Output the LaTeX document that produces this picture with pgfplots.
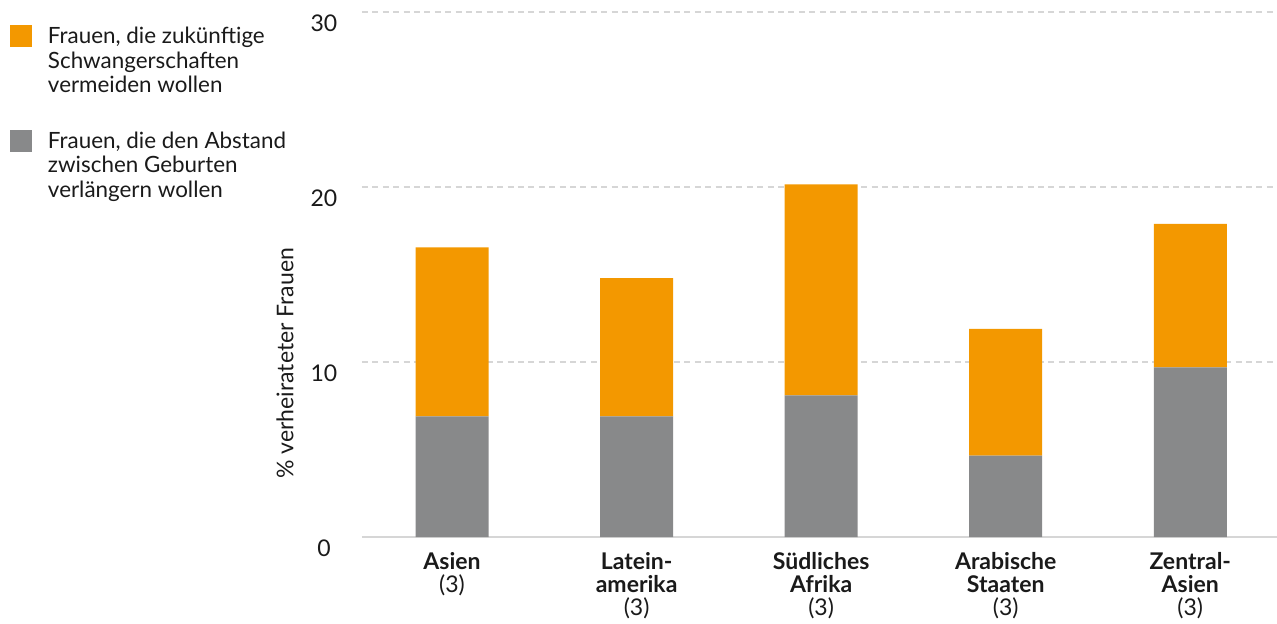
\documentclass[border=0pt]{standalone}
\usepackage{fontspec}
\setmainfont{Lato}
\usepackage{pgfplots}
\pgfplotsset{compat=1.18}
\definecolor{orng}{HTML}{F39800}
\definecolor{gry}{HTML}{88898A}
\definecolor{gridc}{HTML}{D6D6D6}
\definecolor{txt}{HTML}{1A1A1A}
\pgfplotstableread{
x gray orange
0 6.9 9.65
1 6.9 7.9
2 8.1 12.05
3 4.65 7.25
4 9.7 8.2
}\datatable
\begin{document}
\begin{tikzpicture}
\begin{axis}[
  scale only axis, width=457.5pt, height=262.5pt,
  at={(0,0)}, anchor=south west,
  ybar stacked, bar width=36.5pt,
  xmin=-0.488, xmax=4.47, ymin=0, ymax=30,
  ytick={0,10,20,30}, xtick={0,1,2,3,4},
  xticklabels={{\textbf{Asien}\\(3)},{\textbf{Latein-}\\\textbf{amerika}\\(3)},{\textbf{Südliches}\\\textbf{Afrika}\\(3)},{\textbf{Arabische}\\\textbf{Staaten}\\(3)},{\textbf{Zentral-}\\\textbf{Asien}\\(3)}},
  axis x line*=bottom, axis y line*=left,
  y axis line style={draw=none},
  x axis line style={draw=gridc, line width=0.7pt},
  major tick length=0pt,
  ymajorgrids,
  grid style={gridc, line width=0.6pt, dash pattern=on 3pt off 2.2pt},
  /pgf/number format/assume math mode=true,
  tick label style={font=\fontsize{11.5}{11.4}\selectfont, text=txt},
  xticklabel style={align=center, anchor=north, inner sep=0pt, yshift=-7.5pt},
  yticklabel style={anchor=north, inner sep=0pt, xshift=-19pt, yshift=-1pt},
  ylabel={\% verheirateter Frauen},
  ylabel style={at={(axis description cs:-0.0842,0.331)}, anchor=center, font=\fontsize{11.5}{12}\selectfont, text=txt},
  legend style={at={(axis description cs:-0.3847,0.9752)}, anchor=north west, draw=none, fill=none,
    inner sep=0pt, outer sep=0pt, row sep=17pt, column sep=8pt,
    font=\fontsize{11.2}{12.25}\selectfont, text=txt,
    nodes={align=left, inner sep=0pt}},
  legend cell align=left,
  legend style={cells={anchor=north west}},
  legend image code/.code={\fill[#1] (0pt,1pt) rectangle (11pt,-10pt);},
  reverse legend,
]
\addplot[fill=gry, draw=none] table[x=x, y=gray] {\datatable};
\addlegendentry{Frauen, die den Abstand\\zwischen Geburten\\verlängern wollen}
\addplot[fill=orng, draw=none] table[x=x, y=orange] {\datatable};
\addlegendentry{Frauen, die zukünftige\\Schwangerschaften\\vermeiden wollen}
\end{axis}
\pgfresetboundingbox
\path[use as bounding box] (-181pt,-43pt) rectangle (457.5pt,268.5pt);
\end{tikzpicture}
\end{document}
